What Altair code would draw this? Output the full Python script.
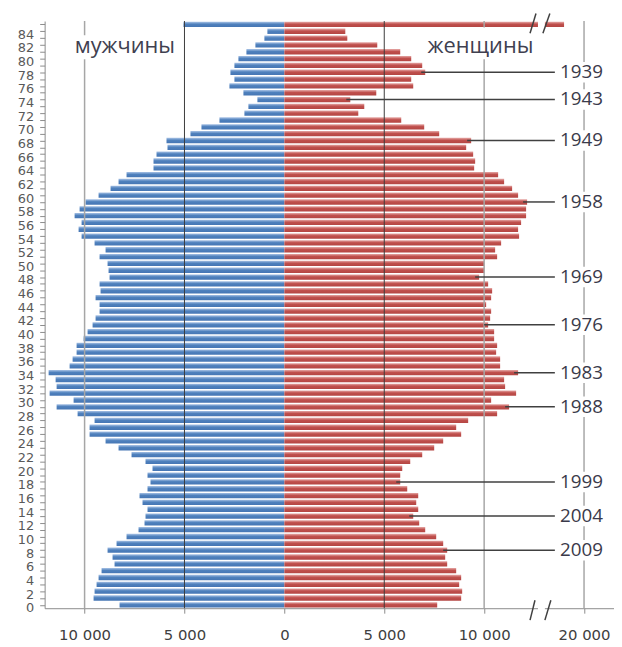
import altair as alt
import pandas as pd

# ---------------- data ----------------
ages = list(range(86))  # 85 = "85+"
male = [8250, 9550, 9500, 9400, 9300, 9150, 8500, 8600, 8850, 8400,
        7900, 7300, 7000, 6950, 6850, 7100, 7250, 6850, 6700, 6850,
        6600, 6950, 7650, 8300, 8950, 9750, 9750, 9500, 10350, 11400,
        10550, 11750, 11400, 11450, 11800, 10750, 10600, 10400, 10400, 10050,
        9850, 9600, 9450, 9250, 9250, 9450, 9200, 9250, 8750, 8800,
        8850, 9250, 8950, 9500, 10150, 10300, 10150, 10500, 10250, 9950,
        9300, 8700, 8300, 7900, 6550, 6550, 6400, 5850, 5900, 4700,
        4150, 3250, 2000, 1800, 1350, 2050, 2750, 2500, 2700, 2500,
        2300, 1900, 1450, 1000, 850, 5050]
female = [7650, 8850, 8900, 8750, 8850, 8600, 8150, 8050, 8150, 7950,
          7600, 7050, 6750, 6450, 6700, 6600, 6700, 6150, 5800, 5800,
          5900, 6300, 6900, 7500, 7950, 8850, 8600, 9200, 10650, 11250,
          10350, 11600, 11050, 11000, 11700, 10800, 10800, 10600, 10650, 10500,
          10500, 10200, 10300, 10350, 10100, 10350, 10400, 10200, 9750, 10000,
          10000, 10650, 10550, 10850, 11750, 11700, 11850, 12100, 12100, 12150,
          11700, 11400, 11000, 10700, 9500, 9550, 9450, 9100, 9350, 7750,
          7000, 5850, 3700, 4000, 3300, 4600, 6450, 6350, 7050, 6900,
          6350, 5800, 4650, 3150, 3050, 19000]
years = [1939, 1943, 1949, 1958, 1969, 1976, 1983, 1988, 1999, 2004, 2009]
ref_year = 2017
x_ticks = [-10000, -5000, 0, 5000, 10000, 15000]
x_tick_labels = ["10 000", "5 000", "0", "5 000", "10 000", "20 000"]
gender_labels = ["мужчины", "женщины"]

# ---------------- styling helpers ----------------
FONT = "DejaVu Sans"
XS = alt.Scale(domain=[-12000, 16500], nice=False, zero=False)
YS = alt.Scale(domain=[-0.5, 85.5], nice=False, zero=False)
BREAK_EXPR = "datum.f_raw > 13000 ? datum.f_raw - 5000 : datum.f_raw"

label_map = " : ".join(
    f"datum.value == {v} ? '{t}'" for v, t in zip(x_ticks, x_tick_labels)
) + " : ''"

x_axis = alt.Axis(values=x_ticks, labelExpr=label_map, title=None, grid=False,
                  tickSize=5, labelPadding=15, domainColor="#8c8c8c",
                  tickColor="#8c8c8c", labelFont=FONT, labelFontSize=15,
                  labelColor="#404040", labelFlush=False, zindex=0)
y_axis = alt.Axis(values=ages,
                  labelExpr="datum.value % 2 == 0 && datum.value < 85 ? '' + datum.value : ''",
                  title=None, grid=False, tickSize=5, labelPadding=6, labelOffset=3,
                  domainColor="#8c8c8c", tickColor="#8c8c8c", labelFont=FONT,
                  labelFontSize=13, labelColor="#595959", labelOverlap=False,
                  labelFlush=False, zindex=0)


def X(field):
    return alt.X(field, scale=XS, axis=x_axis, title=None)


def Y(field):
    return alt.Y(field, scale=YS, axis=y_axis, title=None)


def grad(c_top, c_mid, c_bot):
    return alt.Gradient(gradient="linear", x1=0, x2=0, y1=0, y2=1,
                        stops=[alt.GradientStop(color=c_top, offset=0),
                               alt.GradientStop(color=c_mid, offset=0.45),
                               alt.GradientStop(color=c_bot, offset=1)])


BLUE = grad("#a9c3e6", "#4f81bd", "#4676b4")
RED = grad("#e6a9a7", "#c0504d", "#b44643")

df = pd.DataFrame({"age": ages, "male": male, "f_raw": female})
base = alt.Chart(df).transform_calculate(
    m="-datum.male", f=BREAK_EXPR, y0="datum.age - 0.39", y1="datum.age + 0.39", zero="0")

male_bars = base.mark_rect(color=BLUE).encode(
    x=X("m:Q"), x2="zero:Q", y=Y("y0:Q"), y2="y1:Q")
female_bars = base.mark_rect(color=RED).encode(
    x=X("zero:Q"), x2="f:Q", y=Y("y0:Q"), y2="y1:Q")

grid_df = pd.DataFrame({"v": x_ticks})
grid_base = alt.Chart(grid_df).transform_calculate(ya="-0.5", yb="85.5")
grid_dark = grid_base.transform_filter("abs(datum.v) == 5000").mark_rule(
    color="#3c3c3c", strokeWidth=1).encode(x=X("v:Q"), y=Y("ya:Q"), y2="yb:Q")
grid_light = grid_base.transform_filter("abs(datum.v) >= 10000").mark_rule(
    color="#a6a6a6", strokeWidth=1.5).encode(x=X("v:Q"), y=Y("ya:Q"), y2="yb:Q")

ann_df = pd.DataFrame({"year": years,
                       "age": [ref_year - y for y in years],
                       "f_raw": [female[ref_year - y] for y in years]})
ann_df["label"] = ann_df["year"].astype(str)
ann_base = alt.Chart(ann_df).transform_calculate(f=BREAK_EXPR)
ann_lines = ann_base.transform_calculate(xa="datum.f - 200", xb="13540").mark_rule(
    color="#404040", strokeWidth=1.5).encode(x=X("xa:Q"), x2="xb:Q", y=Y("age:Q"))
ann_boxes = ann_base.transform_calculate(
    xa="13700", xb="16400", ya="datum.age - 1.5", yb="datum.age + 1.5").mark_rect(
    color="white").encode(x=X("xa:Q"), x2="xb:Q", y=Y("ya:Q"), y2="yb:Q")
ann_text = ann_base.transform_calculate(tx="14876").mark_text(
    font="Open Sans", fontSize=19, color="#3a3a4a", align="center", baseline="middle").encode(
    x=X("tx:Q"), y=Y("age:Q"), text="label:N")

gender_df = pd.DataFrame({"label": gender_labels,
                          "tx": [-7983, 9818], "ty": [80.8, 80.8],
                          "xa": [-10760, 6990], "xb": [-5200, 12640],
                          "ya": [79.9, 79.9], "yb": [83.4, 84.55]})
gender_boxes = alt.Chart(gender_df).mark_rect(color="white").encode(
    x=X("xa:Q"), x2="xb:Q", y=Y("ya:Q"), y2="yb:Q")
gender_text = alt.Chart(gender_df).mark_text(
    font="Open Sans", fontSize=22, color="#404050", align="center", baseline="alphabetic").encode(
    x=X("tx:Q"), y=Y("ty:Q"), text="label:N")

# axis-break marks
gap_df = pd.DataFrame({"xa": [12694, 12694], "xb": [13041, 13041],
                       "ya": [84.5, -0.8], "yb": [85.5, -0.2]})
gaps = alt.Chart(gap_df).mark_rect(color="white").encode(
    x=X("xa:Q"), x2="xb:Q", y=Y("ya:Q"), y2="yb:Q")
slash_df = pd.DataFrame({"xa": [12297, 12942, 12297, 13041],
                         "xb": [12595, 13289, 12545, 13339],
                         "ya": [83.7, 83.7, -2.24, -2.24],
                         "yb": [86.6, 86.6, 0.66, 0.66]})
slashes = alt.Chart(slash_df).mark_rule(color="#404040", strokeWidth=1.5).encode(
    x=X("xa:Q"), x2="xb:Q", y=Y("ya:Q"), y2="yb:Q")

chart = alt.layer(
    male_bars, female_bars, grid_light, grid_dark, ann_lines,
    ann_boxes, gender_boxes, ann_text, gender_text, gaps, slashes
).properties(
    width=575, height=593,
    autosize=alt.AutoSizeParams(type="none"),
    padding={"left": 37, "top": 10, "right": 0, "bottom": 35},
    background="white",
).configure_view(stroke=None)

chart.save("out.html", embed_options={"renderer": "svg", "actions": False})
